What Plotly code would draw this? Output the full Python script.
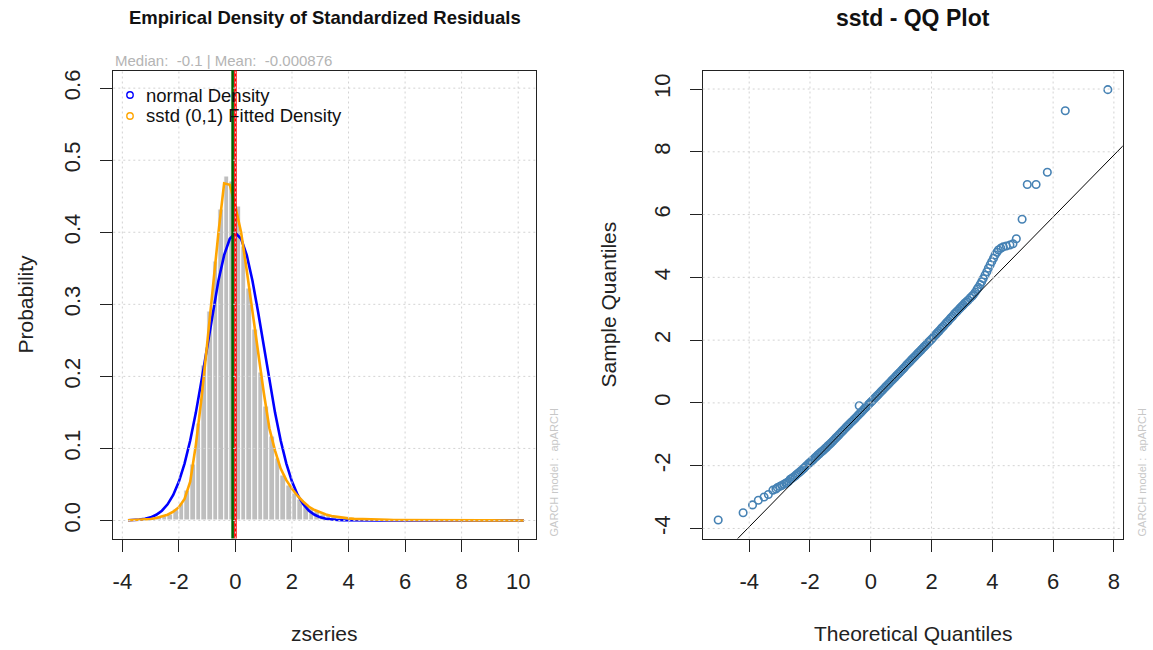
import plotly.graph_objects as go

W, H = 1153, 650
FONT = "Liberation Sans, Arial, sans-serif"

# ---------------- Left panel: empirical density ----------------
breaks = [round(-3.8 + 0.2 * i, 1) for i in range(71)]

hist_density = [
    0.0005, 0.0008, 0.0012, 0.0015, 0.003, 0.004, 0.006, 0.009, 0.015, 0.024,
    0.041, 0.078, 0.135, 0.215, 0.29, 0.36, 0.432, 0.477, 0.47, 0.436,
    0.38, 0.322, 0.265, 0.205, 0.158, 0.116, 0.086, 0.062, 0.049, 0.038,
    0.029, 0.022, 0.017, 0.012, 0.009, 0.007, 0.005, 0.004, 0.0028, 0.002,
    0.0012, 0.0012, 0.0008, 0.0008, 0.0004, 0.0004, 0.0, 0.0, 0.0004, 0.0,
    0.0, 0.0, 0.0, 0.0, 0.0, 0.0, 0.0, 0.0, 0.0, 0.0,
    0.0, 0.0, 0.0, 0.0, 0.0, 0.0004, 0.0, 0.0, 0.0004, 0.0,
]

normal_density = [
    0.0003, 0.0006, 0.0012, 0.0024, 0.0044, 0.0079, 0.0136, 0.0224, 0.0355, 0.0540,
    0.0790, 0.1109, 0.1497, 0.1942, 0.2420, 0.2897, 0.3332, 0.3683, 0.3910, 0.3989,
    0.3910, 0.3683, 0.3332, 0.2897, 0.2420, 0.1942, 0.1497, 0.1109, 0.0790, 0.0540,
    0.0355, 0.0224, 0.0136, 0.0079, 0.0044, 0.0024, 0.0012, 0.0006, 0.0003, 0.0001,
    0.0, 0.0, 0.0, 0.0, 0.0, 0.0, 0.0, 0.0, 0.0, 0.0,
    0.0, 0.0, 0.0, 0.0, 0.0, 0.0, 0.0, 0.0, 0.0, 0.0,
    0.0, 0.0, 0.0, 0.0, 0.0, 0.0, 0.0, 0.0, 0.0, 0.0, 0.0,
]

sstd_density = [
    0.0003, 0.0005, 0.0008, 0.0013, 0.0021, 0.0034, 0.0053, 0.0080, 0.0122, 0.0185,
    0.0300, 0.0540, 0.1050, 0.1700, 0.2450, 0.3250, 0.4000, 0.4680, 0.4660, 0.4350,
    0.4000, 0.3470, 0.2900, 0.2320, 0.1780, 0.1280, 0.0970, 0.0720, 0.0560, 0.0440,
    0.0340, 0.0260, 0.0190, 0.0145, 0.0110, 0.0083, 0.0063, 0.0049, 0.0039, 0.0029,
    0.0023, 0.0019, 0.0016, 0.0013, 0.0011, 0.0009, 0.0008, 0.0007, 0.0006, 0.0005,
    0.00045, 0.0004, 0.00035, 0.0003, 0.00027, 0.00024, 0.00021, 0.00019, 0.00017, 0.00015,
    0.00014, 0.00012, 0.00011, 0.0001, 0.00009, 0.00008, 0.00007, 0.00007, 0.00006, 0.00006, 0.00005,
]

resid_mean = -0.000876
resid_median = -0.1
subtitle = "Median:  -0.1 | Mean:  -0.000876"
legend_labels = ["normal Density", "sstd (0,1) Fitted Density"]
legend_colors = ["#0000FF", "#FFA500"]

dens_xticks = [-4, -2, 0, 2, 4, 6, 8, 10]
dens_xtext = ["-4", "-2", "0", "2", "4", "6", "8", "10"]
dens_yticks = [0.0, 0.1, 0.2, 0.3, 0.4, 0.5, 0.6]
dens_ytext = ["0.0", "0.1", "0.2", "0.3", "0.4", "0.5", "0.6"]

# ---------------- Right panel: QQ plot ----------------
qq_theoretical = [
    -5.02, -4.20, -3.89, -3.70, -3.51, -3.37, -3.22, -3.12, -3.07, -2.99,
    -2.93, -2.86, -2.80, -2.76, -2.70, -2.65, -2.60, -2.55, -2.49, -2.45,
    -2.40, -2.35, -2.30, -2.25, -2.20, -2.15, -2.10, -2.05, -2.00, -1.95,
    -1.90, -1.85, -1.80, -1.75, -1.70, -1.65, -1.60, -1.55, -1.50, -1.45,
    -1.40, -1.35, -1.30, -1.25, -1.20, -1.15, -1.10, -1.05, -1.00, -0.95,
    -0.90, -0.85, -0.80, -0.75, -0.70, -0.65, -0.60, -0.55, -0.50, -0.45,
    -0.40, -0.35, -0.30, -0.25, -0.20, -0.15, -0.10, -0.05, 0.00, 0.05,
    0.10, 0.15, 0.20, 0.25, 0.30, 0.35, 0.40, 0.45, 0.50, 0.55,
    0.60, 0.65, 0.70, 0.75, 0.80, 0.85, 0.90, 0.95, 1.00, 1.05,
    1.10, 1.15, 1.20, 1.25, 1.30, 1.35, 1.40, 1.45, 1.50, 1.55,
    1.60, 1.65, 1.70, 1.75, 1.80, 1.85, 1.90, 1.95, 2.00, 2.05,
    2.10, 2.15, 2.20, 2.25, 2.30, 2.35, 2.40, 2.45, 2.50, 2.55,
    2.60, 2.65, 2.70, 2.75, 2.80, 2.85, 2.90, 2.95, 3.00, 3.05,
    3.10, 3.15, 3.20, 3.27, 3.33, 3.38, 3.44, 3.50, 3.54, 3.60,
    3.65, 3.70, 3.76, 3.82, 3.87, 3.93, 3.98, 4.04, 4.09, 4.15,
    4.20, 4.28, 4.36, 4.46, 4.58, 4.68, 4.79, 4.98, 5.15, 5.44,
    5.81, 6.40, 7.80, -0.38,
]
qq_sample = [
    -3.73, -3.50, -3.25, -3.10, -3.00, -2.92, -2.78, -2.74, -2.70, -2.66,
    -2.63, -2.59, -2.56, -2.54, -2.50, -2.43, -2.41, -2.37, -2.33, -2.29,
    -2.25, -2.21, -2.17, -2.12, -2.08, -2.03, -1.99, -1.94, -1.90, -1.85,
    -1.81, -1.76, -1.72, -1.67, -1.63, -1.58, -1.54, -1.50, -1.45, -1.41,
    -1.36, -1.32, -1.27, -1.22, -1.17, -1.12, -1.07, -1.02, -0.97, -0.92,
    -0.87, -0.82, -0.77, -0.72, -0.67, -0.62, -0.58, -0.53, -0.48, -0.43,
    -0.38, -0.33, -0.28, -0.23, -0.18, -0.13, -0.08, -0.03, 0.02, 0.07,
    0.12, 0.17, 0.22, 0.27, 0.32, 0.37, 0.42, 0.47, 0.52, 0.57,
    0.62, 0.67, 0.72, 0.77, 0.82, 0.87, 0.92, 0.97, 1.02, 1.07,
    1.12, 1.18, 1.23, 1.28, 1.33, 1.38, 1.43, 1.48, 1.53, 1.58,
    1.63, 1.68, 1.73, 1.78, 1.83, 1.88, 1.93, 1.98, 2.03, 2.08,
    2.14, 2.19, 2.24, 2.29, 2.35, 2.40, 2.45, 2.51, 2.56, 2.61,
    2.67, 2.72, 2.77, 2.83, 2.88, 2.93, 2.98, 3.03, 3.08, 3.13,
    3.18, 3.22, 3.27, 3.34, 3.40, 3.45, 3.53, 3.62, 3.68, 3.77,
    3.86, 3.96, 4.07, 4.18, 4.29, 4.40, 4.50, 4.61, 4.71, 4.80,
    4.87, 4.93, 4.97, 5.00, 5.03, 5.07, 5.23, 5.85, 6.96, 6.96,
    7.35, 9.31, 9.98, -0.09,
]
qq_line_intercept = 0.0
qq_line_slope = 0.987

qq_xticks = [-4, -2, 0, 2, 4, 6, 8]
qq_xtext = ["-4", "-2", "0", "2", "4", "6", "8"]
qq_yticks = [-4, -2, 0, 2, 4, 6, 8, 10]
qq_ytext = ["-4", "-2", "0", "2", "4", "6", "8", "10"]

# ---------------- geometry (pixels) ----------------
L_X0, L_X1 = 113.3, 536.0
R_X0, R_X1 = 702.7, 1122.7
Y_TOP, Y_BOT = 70.5, 538.5
dens_xrange = [-4.32, 10.63]
dens_yrange = [-0.025, 0.6245]
qq_xrange = [-5.53, 8.29]
qq_yrange = [-4.32, 10.59]


def px(v):
    return v / W


def py(v):
    return 1 - v / H


fig = go.Figure()

bin_centers = [(breaks[i] + breaks[i + 1]) / 2 for i in range(len(breaks) - 1)]
fig.add_trace(go.Bar(
    x=bin_centers, y=hist_density, width=0.2,
    marker=dict(color="#BEBEBE", line=dict(color="white", width=1.1)),
    showlegend=False, xaxis="x", yaxis="y", hoverinfo="skip"))
fig.add_trace(go.Scatter(
    x=breaks, y=normal_density, mode="lines", name=legend_labels[0],
    line=dict(color=legend_colors[0], width=2.6), showlegend=False, xaxis="x", yaxis="y"))
fig.add_trace(go.Scatter(
    x=breaks, y=sstd_density, mode="lines", name=legend_labels[1],
    line=dict(color=legend_colors[1], width=2.6), showlegend=False, xaxis="x", yaxis="y"))

# QQ points
fig.add_trace(go.Scatter(
    x=qq_theoretical, y=qq_sample, mode="markers",
    marker=dict(symbol="circle-open", color="#4682B4", size=7.5, line=dict(width=1.6)),
    showlegend=False, xaxis="x2", yaxis="y2"))
# QQ line
qx = [qq_xrange[0] - 1, qq_xrange[1] + 1]
qy = [qq_line_intercept + qq_line_slope * v for v in qx]
fig.add_trace(go.Scatter(
    x=qx, y=qy, mode="lines", line=dict(color="black", width=1),
    showlegend=False, xaxis="x2", yaxis="y2"))

shapes = []
# mean / median vertical lines
shapes.append(dict(type="line", xref="x", yref="y domain", x0=resid_mean, x1=resid_mean,
                   y0=0, y1=1, line=dict(color="#FF0000", width=2.6), layer="above"))
shapes.append(dict(type="line", xref="x", yref="y domain", x0=resid_median, x1=resid_median,
                   y0=0, y1=1, line=dict(color="#006400", width=2.6), layer="above"))

grid_line = dict(color="#D3D3D3", width=1, dash="2px,3px")
for v in dens_xticks:
    shapes.append(dict(type="line", xref="x", yref="y domain", x0=v, x1=v, y0=0, y1=1,
                       line=grid_line, layer="above"))
for v in dens_yticks:
    shapes.append(dict(type="line", xref="x domain", yref="y", x0=0, x1=1, y0=v, y1=v,
                       line=grid_line, layer="above"))
for v in qq_xticks:
    shapes.append(dict(type="line", xref="x2", yref="y2 domain", x0=v, x1=v, y0=0, y1=1,
                       line=grid_line, layer="above"))
for v in qq_yticks:
    shapes.append(dict(type="line", xref="x2 domain", yref="y2", x0=0, x1=1, y0=v, y1=v,
                       line=grid_line, layer="above"))

# legend symbols (pch = 1 open circles), top-left inside the density panel
LEG_X, LEG_Y0, LEG_DY = 130.0, 95.0, 21.0
for i, col in enumerate(legend_colors):
    cy = LEG_Y0 + i * LEG_DY
    shapes.append(dict(type="circle", xref="paper", yref="paper",
                       x0=px(LEG_X - 3.2), x1=px(LEG_X + 3.2),
                       y0=py(cy + 3.2), y1=py(cy - 3.2),
                       line=dict(color=col, width=1.4), fillcolor="rgba(0,0,0,0)",
                       layer="above"))

axis_common = dict(
    showgrid=False, zeroline=False, showline=True, mirror=True,
    linecolor="#222222", linewidth=1.2,
    ticks="outside", ticklen=12, tickwidth=1, tickcolor="#222222",
    tickfont=dict(family=FONT, size=22, color="#222222"),
    ticklabelstandoff=11, fixedrange=True,
)

fig.update_layout(
    width=W, height=H,
    margin=dict(l=0, r=0, t=0, b=0, autoexpand=False),
    paper_bgcolor="white", plot_bgcolor="white",
    bargap=0,
    showlegend=False,
    xaxis=dict(domain=[px(L_X0), px(L_X1)], range=dens_xrange, anchor="y",
               tickvals=dens_xticks, ticktext=dens_xtext, **axis_common),
    yaxis=dict(domain=[py(Y_BOT), py(Y_TOP)], range=dens_yrange, anchor="x",
               tickvals=dens_yticks, ticktext=dens_ytext, tickangle=-90, **axis_common),
    xaxis2=dict(domain=[px(R_X0), px(R_X1)], range=qq_xrange, anchor="y2",
                tickvals=qq_xticks, ticktext=qq_xtext, **axis_common),
    yaxis2=dict(domain=[py(Y_BOT), py(Y_TOP)], range=qq_yrange, anchor="x2",
                tickvals=qq_yticks, ticktext=qq_ytext, tickangle=-90, **axis_common),
    shapes=shapes,
)

ann = []
ann.append(dict(text="<b>Empirical Density of Standardized Residuals</b>", xref="paper", yref="paper",
                x=px((L_X0 + L_X1) / 2), y=py(18), xanchor="center", yanchor="middle",
                showarrow=False, font=dict(family=FONT, size=18.5, color="#111111")))
ann.append(dict(text="<b>sstd - QQ Plot</b>", xref="paper", yref="paper",
                x=px((R_X0 + R_X1) / 2), y=py(18), xanchor="center", yanchor="middle",
                showarrow=False, font=dict(family=FONT, size=23, color="#111111")))
ann.append(dict(text=subtitle, xref="paper", yref="paper",
                x=px(L_X0), y=py(60), xanchor="left", yanchor="middle",
                showarrow=False, font=dict(family=FONT, size=15, color="#B4B4B4")))
for i, lab in enumerate(legend_labels):
    ann.append(dict(text=lab, xref="paper", yref="paper",
                    x=px(LEG_X + 14), y=py(LEG_Y0 + i * LEG_DY), xanchor="left", yanchor="middle",
                    showarrow=False, font=dict(family=FONT, size=18.5, color="#111111")))
ann.append(dict(text="zseries", xref="paper", yref="paper",
                x=px((L_X0 + L_X1) / 2), y=py(633), xanchor="center", yanchor="middle",
                showarrow=False, font=dict(family=FONT, size=21, color="#222222")))
ann.append(dict(text="Theoretical Quantiles", xref="paper", yref="paper",
                x=px((R_X0 + R_X1) / 2), y=py(633), xanchor="center", yanchor="middle",
                showarrow=False, font=dict(family=FONT, size=21, color="#222222")))
ann.append(dict(text="Probability", xref="paper", yref="paper", textangle=-90,
                x=px(25), y=py((Y_TOP + Y_BOT) / 2), xanchor="center", yanchor="middle",
                showarrow=False, font=dict(family=FONT, size=21, color="#222222")))
ann.append(dict(text="Sample Quantiles", xref="paper", yref="paper", textangle=-90,
                x=px(608), y=py((Y_TOP + Y_BOT) / 2), xanchor="center", yanchor="middle",
                showarrow=False, font=dict(family=FONT, size=21, color="#222222")))
for xw in (553, 1141):
    ann.append(dict(text="GARCH model :  apARCH", xref="paper", yref="paper", textangle=-90,
                    x=px(xw), y=py(Y_BOT), xanchor="center", yanchor="bottom",
                    showarrow=False, font=dict(family=FONT, size=11, color="#C8C8C8")))
fig.update_layout(annotations=ann)

fig.write_html("out.html")
